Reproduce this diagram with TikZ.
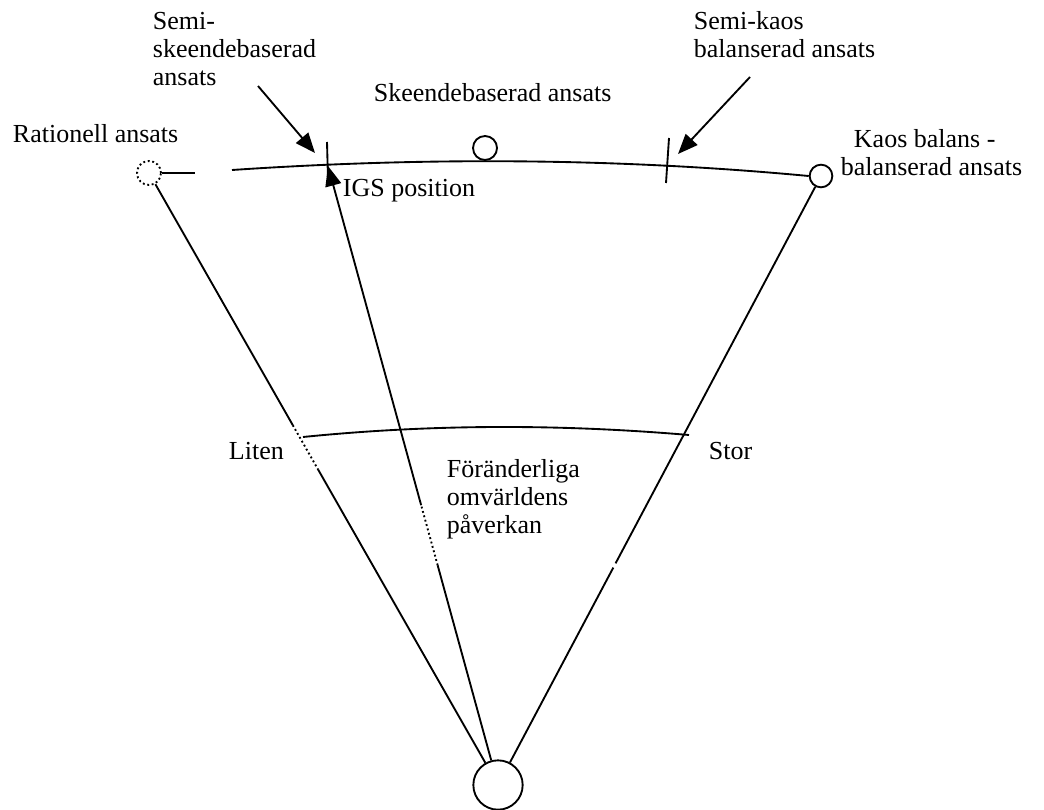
\documentclass[tikz,border=0pt]{standalone}
\usepackage{fontspec}
\setmainfont{Liberation Serif}
\usetikzlibrary{arrows.meta,calc}
\begin{document}
\begin{tikzpicture}[x=0.75pt,y=-0.75pt,
  line width=1.4pt,
  lbl/.style={anchor=base west,inner sep=0pt,font=\fontsize{19.5}{21}\selectfont},
  ring/.style={circle,draw,inner sep=0pt,line width=1.4pt},
  pointer/.style={-{Triangle[length=15pt,width=12pt]}}]
\useasboundingbox (0,0) rectangle (1044,809);

% circles
\node[ring,dotted,minimum size=18pt] (lc) at (149,173) {};
\node[ring,minimum size=18pt] (tc) at (485,148) {};
\node[ring,minimum size=17pt] (rc) at (821,176) {};
\node[ring,minimum size=37pt] (bc) at (498,785) {};

% helper points
\coordinate (s1) at (195,173);
\coordinate (a1) at (232,170);
\coordinate (igs) at (328,166);
\coordinate (m1) at (303,437);
\coordinate (m2) at (689,435);
\coordinate (t1a) at (327,142);
\coordinate (t1b) at (328,180);
\coordinate (t2a) at (669,138);
\coordinate (t2b) at (666,183);
\coordinate (p1a) at (258,86);
\coordinate (p1b) at (315,153);
\coordinate (p2a) at (750,77);
\coordinate (p2b) at (678,154);

% upper scale
\draw (lc) -- (s1);
\draw (a1) .. controls (425,157) and (617,158) .. (rc.west);
\draw (t1a) -- (t1b);
\draw (t2a) -- (t2b);

% lower scale
\draw (m1) .. controls (432,424) and (560,424) .. (m2);

% rays from the bottom circle
\draw (lc) -- ($(lc)!0.412!(bc)$);
\draw[dotted] ($(lc)!0.412!(bc)$) -- ($(lc)!0.485!(bc)$);
\draw ($(lc)!0.485!(bc)$) -- (bc);
\draw (rc) -- ($(rc)!0.636!(bc)$);
\draw ($(rc)!0.643!(bc)$) -- (bc);
\draw (bc) -- ($(bc)!0.355!(igs)$);
\draw[dotted] ($(bc)!0.355!(igs)$) -- ($(bc)!0.452!(igs)$);
\draw[pointer] ($(bc)!0.452!(igs)$) -- (igs);

% pointers to the ticks
\draw[pointer] (p1a) -- (p1b);
\draw[pointer] (p2a) -- (p2b);

% labels
\node[lbl] (l1) at (152,30) {Semi-};
\node[lbl] (l2) at (152,58) {skeendebaserad};
\node[lbl] (l3) at (152,86) {ansats};
\node[lbl] (l4) at (373,102) {Skeendebaserad ansats};
\node[lbl] (l5) at (693,30) {Semi-kaos};
\node[lbl] (l6) at (693,58) {balanserad ansats};
\node[lbl] (l7) at (12,143) {Rationell ansats};
\node[lbl] (l8) at (853,148) {Kaos balans -};
\node[lbl] (l9) at (840,176) {balanserad ansats};
\node[lbl] (l10) at (342,196) {IGS position};
\node[lbl] (l11) at (228,459) {Liten};
\node[lbl] (l12) at (708,459) {Stor};
\node[lbl] (l13) at (446,477) {Föränderliga};
\node[lbl] (l14) at (446,505) {omvärldens};
\node[lbl] (l15) at (446,533) {påverkan};
\end{tikzpicture}
\end{document}
